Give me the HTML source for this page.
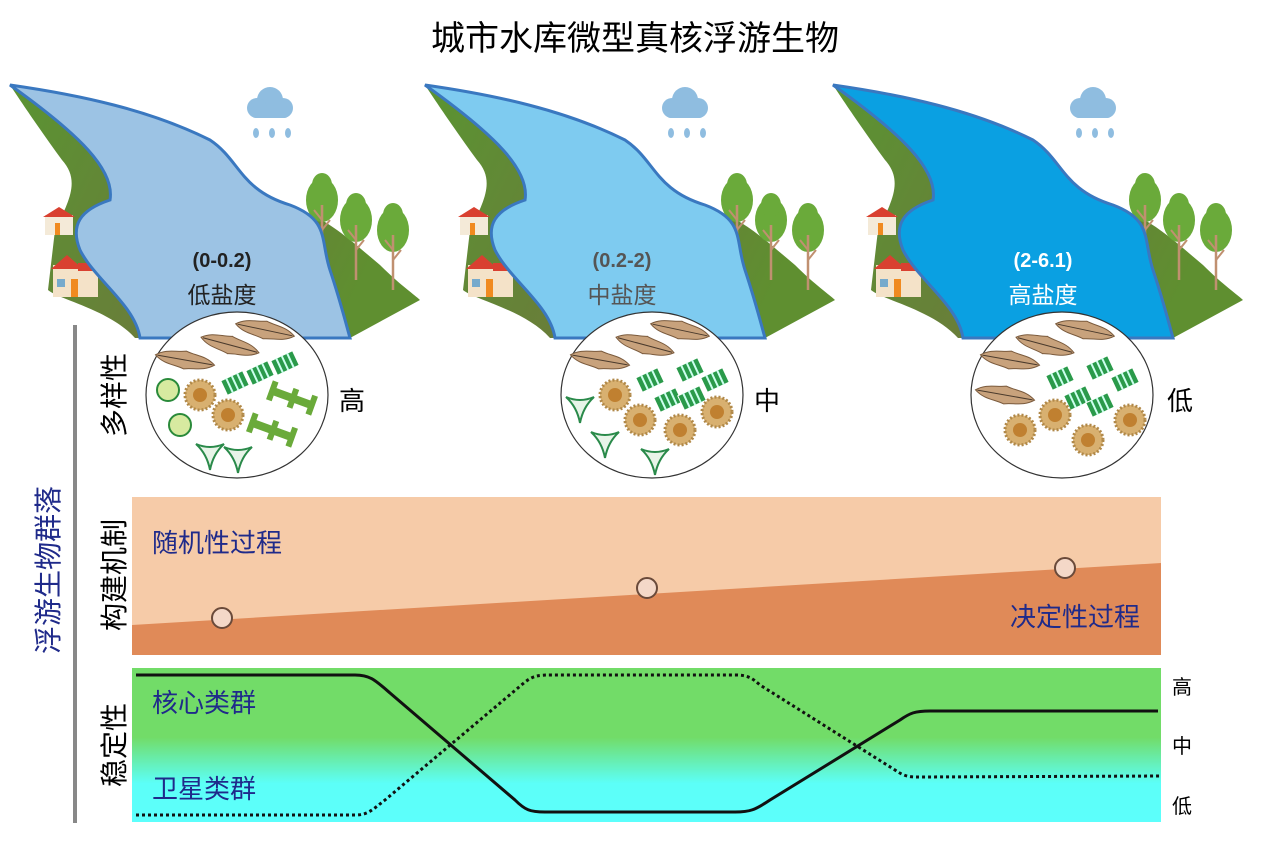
<!DOCTYPE html>
<html><head><meta charset="utf-8"><style>
html,body{margin:0;padding:0;background:#fff;}
svg{display:block;font-family:"Liberation Sans","Noto Sans CJK SC",sans-serif;}
</style></head><body>
<svg width="1269" height="842" viewBox="0 0 1269 842" xmlns="http://www.w3.org/2000/svg">
<defs>
<linearGradient id="land" x1="0" y1="0" x2="1" y2="0.3">
<stop offset="0" stop-color="#5a9432"/><stop offset="0.6" stop-color="#6a7c3a"/><stop offset="1" stop-color="#5f8f30"/></linearGradient>
<linearGradient id="stab" x1="0" y1="0" x2="0" y2="1">
<stop offset="0" stop-color="#72dc68"/><stop offset="0.45" stop-color="#72dc68"/><stop offset="0.75" stop-color="#5cfff8"/><stop offset="1" stop-color="#5cfffc"/></linearGradient>
<g id="tree"><ellipse cx="0" cy="15" rx="16" ry="22" fill="#6aaa3a"/><ellipse cx="0" cy="0" rx="10" ry="12" fill="#6aaa3a"/><line x1="0" y1="20" x2="0" y2="75" stroke="#c09070" stroke-width="2.5"/><line x1="0" y1="35" x2="-8" y2="25" stroke="#c09070" stroke-width="2"/><line x1="0" y1="45" x2="8" y2="35" stroke="#c09070" stroke-width="2"/></g>
<g id="panel">
<path d="M10,85 C80,95 150,110 210,140 C240,160 240,190 290,205 C330,220 350,240 380,265 C400,285 415,295 420,300 L350,338 L135,338 C110,310 60,300 48,290 L55,230 C70,200 80,180 62,160 C40,130 20,100 10,85Z" fill="url(#land)"/>
<use href="#tree" transform="translate(322,185)"/>
<use href="#tree" transform="translate(356,205)"/>
<use href="#tree" transform="translate(393,215)"/>
<g transform="translate(45,207)"><rect x="0" y="8" width="28" height="20" fill="#f4ead8"/><path d="M-2,10 L14,0 L30,10Z" fill="#d94030"/><rect x="10" y="16" width="5" height="12" fill="#f08a20"/></g>
<g transform="translate(53,255)"><rect x="0" y="10" width="45" height="32" fill="#f4e2c8"/><path d="M-2,14 L14,0 L30,14Z" fill="#d94030"/><rect x="25" y="8" width="20" height="8" fill="#d94030"/><rect x="18" y="24" width="7" height="18" fill="#f08a20"/><rect x="4" y="24" width="8" height="8" fill="#7ac"/></g>
<g transform="translate(270,100)"><circle cx="0" cy="0" r="13" fill="#8fbde0"/><circle cx="-13" cy="8" r="10" fill="#8fbde0"/><circle cx="13" cy="8" r="10" fill="#8fbde0"/><rect x="-20" y="6" width="40" height="12" rx="6" fill="#8fbde0"/><ellipse cx="-14" cy="33" rx="3" ry="5" fill="#8fbde0"/><ellipse cx="2" cy="33" rx="3" ry="5" fill="#8fbde0"/><ellipse cx="18" cy="33" rx="3" ry="5" fill="#8fbde0"/></g>
</g>
<path id="river" d="M10,85 C80,95 150,110 210,140 C240,160 240,190 290,205 C330,220 320,240 330,270 C340,300 345,320 350,338 L140,338 C135,305 95,280 80,250 C70,225 80,210 110,200 C115,170 80,135 10,85Z"/>
<g id="diatom"><path d="M-30,0 C-20,-8 -10,-6 0,-9 C10,-6 20,-8 30,0 C20,8 10,6 0,9 C-10,6 -20,8 -30,0Z" fill="#c8a27c" stroke="#7a5a3c" stroke-width="1"/><line x1="-28" y1="0" x2="28" y2="0" stroke="#4a3a2c" stroke-width="1"/></g>
<g id="spiky"><circle r="15" fill="#d8b070" stroke="#b08848" stroke-width="3" stroke-dasharray="2 2"/><circle r="7" fill="#c08030"/></g>
<g id="cyl"><rect x="-12" y="-8" width="24" height="16" fill="#2a9a4a" stroke="#fff" stroke-width="1"/><line x1="-6" y1="-8" x2="-6" y2="8" stroke="#cfe" stroke-width="2"/><line x1="0" y1="-8" x2="0" y2="8" stroke="#cfe" stroke-width="2"/><line x1="6" y1="-8" x2="6" y2="8" stroke="#cfe" stroke-width="2"/></g>
<g id="tri"><path d="M-14,-8 Q0,-2 14,-8 Q3,2 0,18 Q-3,2 -14,-8Z" fill="#e8f4e8" stroke="#2a8a4a" stroke-width="2"/></g>
<g id="bar"><rect x="-20" y="-4" width="40" height="8" fill="#6aaa3a"/><rect x="-24" y="-10" width="6" height="20" fill="#6aaa3a"/><rect x="-2" y="-10" width="6" height="20" fill="#6aaa3a"/><rect x="18" y="-10" width="6" height="20" fill="#6aaa3a"/></g>
</defs>

<text x="635" y="50" font-size="34" text-anchor="middle" fill="#000">城市水库微型真核浮游生物</text>

<use href="#panel"/>
<use href="#river" fill="#9cc3e4" stroke="#3a78c0" stroke-width="3"/>
<text x="222" y="267" font-size="20" font-weight="bold" text-anchor="middle" fill="#222">(0-0.2)</text>
<text x="222" y="303" font-size="23" text-anchor="middle" fill="#222">低盐度</text>
<g transform="translate(415,0)"><use href="#panel"/><use href="#river" fill="#7ecbf0" stroke="#3a78c0" stroke-width="3"/></g>
<text x="622" y="267" font-size="20" font-weight="bold" text-anchor="middle" fill="#555">(0.2-2)</text>
<text x="622" y="303" font-size="23" text-anchor="middle" fill="#555">中盐度</text>
<g transform="translate(823,0)"><use href="#panel"/><use href="#river" fill="#0aa0e2" stroke="#3a78c0" stroke-width="3"/></g>
<text x="1043" y="267" font-size="20" font-weight="bold" text-anchor="middle" fill="#fff">(2-6.1)</text>
<text x="1043" y="303" font-size="23" text-anchor="middle" fill="#fff">高盐度</text>

<g>
<ellipse cx="237" cy="395" rx="91" ry="83" fill="#fff" stroke="#333" stroke-width="1.2"/>
<use href="#diatom" transform="translate(185,360) rotate(10)"/><use href="#diatom" transform="translate(230,345) rotate(15)"/><use href="#diatom" transform="translate(265,330) rotate(12)"/>
<use href="#cyl" transform="translate(235,383) rotate(-25)"/><use href="#cyl" transform="translate(260,373) rotate(-25)"/><use href="#cyl" transform="translate(285,363) rotate(-25)"/>
<circle cx="168" cy="390" r="11" fill="#d7eaa0" stroke="#2a8a3a" stroke-width="2"/><circle cx="180" cy="425" r="11" fill="#d7eaa0" stroke="#2a8a3a" stroke-width="2"/>
<use href="#spiky" transform="translate(200,395)"/><use href="#spiky" transform="translate(228,415)"/>
<use href="#bar" transform="translate(292,398) rotate(20)"/><use href="#bar" transform="translate(272,430) rotate(20)"/>
<use href="#tri" transform="translate(210,452)"/><use href="#tri" transform="translate(238,455)"/>
</g>
<text x="352" y="410" font-size="26" text-anchor="middle">高</text>
<g>
<ellipse cx="652" cy="395" rx="91" ry="83" fill="#fff" stroke="#333" stroke-width="1.2"/>
<use href="#diatom" transform="translate(600,360) rotate(10)"/><use href="#diatom" transform="translate(645,345) rotate(15)"/><use href="#diatom" transform="translate(680,330) rotate(12)"/>
<use href="#cyl" transform="translate(650,380) rotate(-25)"/><use href="#cyl" transform="translate(690,370) rotate(-25)"/><use href="#cyl" transform="translate(715,380) rotate(-25)"/><use href="#cyl" transform="translate(668,400) rotate(-25)"/><use href="#cyl" transform="translate(692,398) rotate(-25)"/>
<use href="#spiky" transform="translate(615,395)"/><use href="#spiky" transform="translate(640,420)"/><use href="#spiky" transform="translate(680,430)"/><use href="#spiky" transform="translate(717,412)"/>
<use href="#tri" transform="translate(580,405)"/><use href="#tri" transform="translate(605,440)"/><use href="#tri" transform="translate(655,457)"/>
</g>
<text x="767" y="410" font-size="26" text-anchor="middle">中</text>
<g>
<ellipse cx="1062" cy="395" rx="91" ry="83" fill="#fff" stroke="#333" stroke-width="1.2"/>
<use href="#diatom" transform="translate(1010,360) rotate(10)"/><use href="#diatom" transform="translate(1045,345) rotate(15)"/><use href="#diatom" transform="translate(1085,330) rotate(12)"/><use href="#diatom" transform="translate(1005,395) rotate(10)"/>
<use href="#cyl" transform="translate(1060,378) rotate(-25)"/><use href="#cyl" transform="translate(1100,368) rotate(-25)"/><use href="#cyl" transform="translate(1125,380) rotate(-25)"/><use href="#cyl" transform="translate(1078,398) rotate(-25)"/><use href="#cyl" transform="translate(1100,405) rotate(-25)"/>
<use href="#spiky" transform="translate(1055,415)"/><use href="#spiky" transform="translate(1020,430)"/><use href="#spiky" transform="translate(1088,440)"/><use href="#spiky" transform="translate(1130,420)"/>
</g>
<text x="1180" y="410" font-size="26" text-anchor="middle">低</text>

<line x1="75" y1="325" x2="75" y2="823" stroke="#888" stroke-width="4"/>
<text transform="translate(58,570) rotate(-90)" font-size="28" text-anchor="middle" fill="#1f2a8a">浮游生物群落</text>
<text transform="translate(124,395) rotate(-90)" font-size="28" text-anchor="middle" fill="#000">多样性</text>
<text transform="translate(124,575) rotate(-90)" font-size="28" text-anchor="middle" fill="#000">构建机制</text>
<text transform="translate(124,745) rotate(-90)" font-size="28" text-anchor="middle" fill="#000">稳定性</text>

<rect x="132" y="497" width="1029" height="158" fill="#f6cba8"/>
<polygon points="132,625 1161,563 1161,655 132,655" fill="#e08a58"/>
<text x="152" y="552" font-size="26" fill="#1f2a8a">随机性过程</text>
<text x="1140" y="626" font-size="26" fill="#1f2a8a" text-anchor="end">决定性过程</text>
<circle cx="222" cy="618" r="10" fill="#f4d8c8" stroke="#6a4a3a" stroke-width="2"/>
<circle cx="647" cy="588" r="10" fill="#f4d8c8" stroke="#6a4a3a" stroke-width="2"/>
<circle cx="1065" cy="568" r="10" fill="#f4d8c8" stroke="#6a4a3a" stroke-width="2"/>

<rect x="132" y="668" width="1029" height="154" fill="url(#stab)"/>
<text x="152" y="712" font-size="26" fill="#1f2a8a">核心类群</text>
<text x="152" y="798" font-size="26" fill="#1f2a8a">卫星类群</text>
<path d="M136,675 L355,675 C370,675 375,680 390,693 L515,800 C525,810 530,812 545,812 L735,812 C750,812 755,810 770,800 L900,720 C910,713 915,711 930,711 L1158,711" fill="none" stroke="#111" stroke-width="3"/>
<path d="M136,815 L355,815 C368,815 372,810 385,800 L525,682 C533,676 538,675 550,675 L735,675 C748,675 752,678 760,685 L895,770 C905,777 910,777 920,777 L1160,776" fill="none" stroke="#111" stroke-width="3" stroke-dasharray="3 3"/>
<text x="1182" y="694" font-size="20" text-anchor="middle">高</text>
<text x="1182" y="753" font-size="20" text-anchor="middle">中</text>
<text x="1182" y="813" font-size="20" text-anchor="middle">低</text>
</svg>
</body></html>
